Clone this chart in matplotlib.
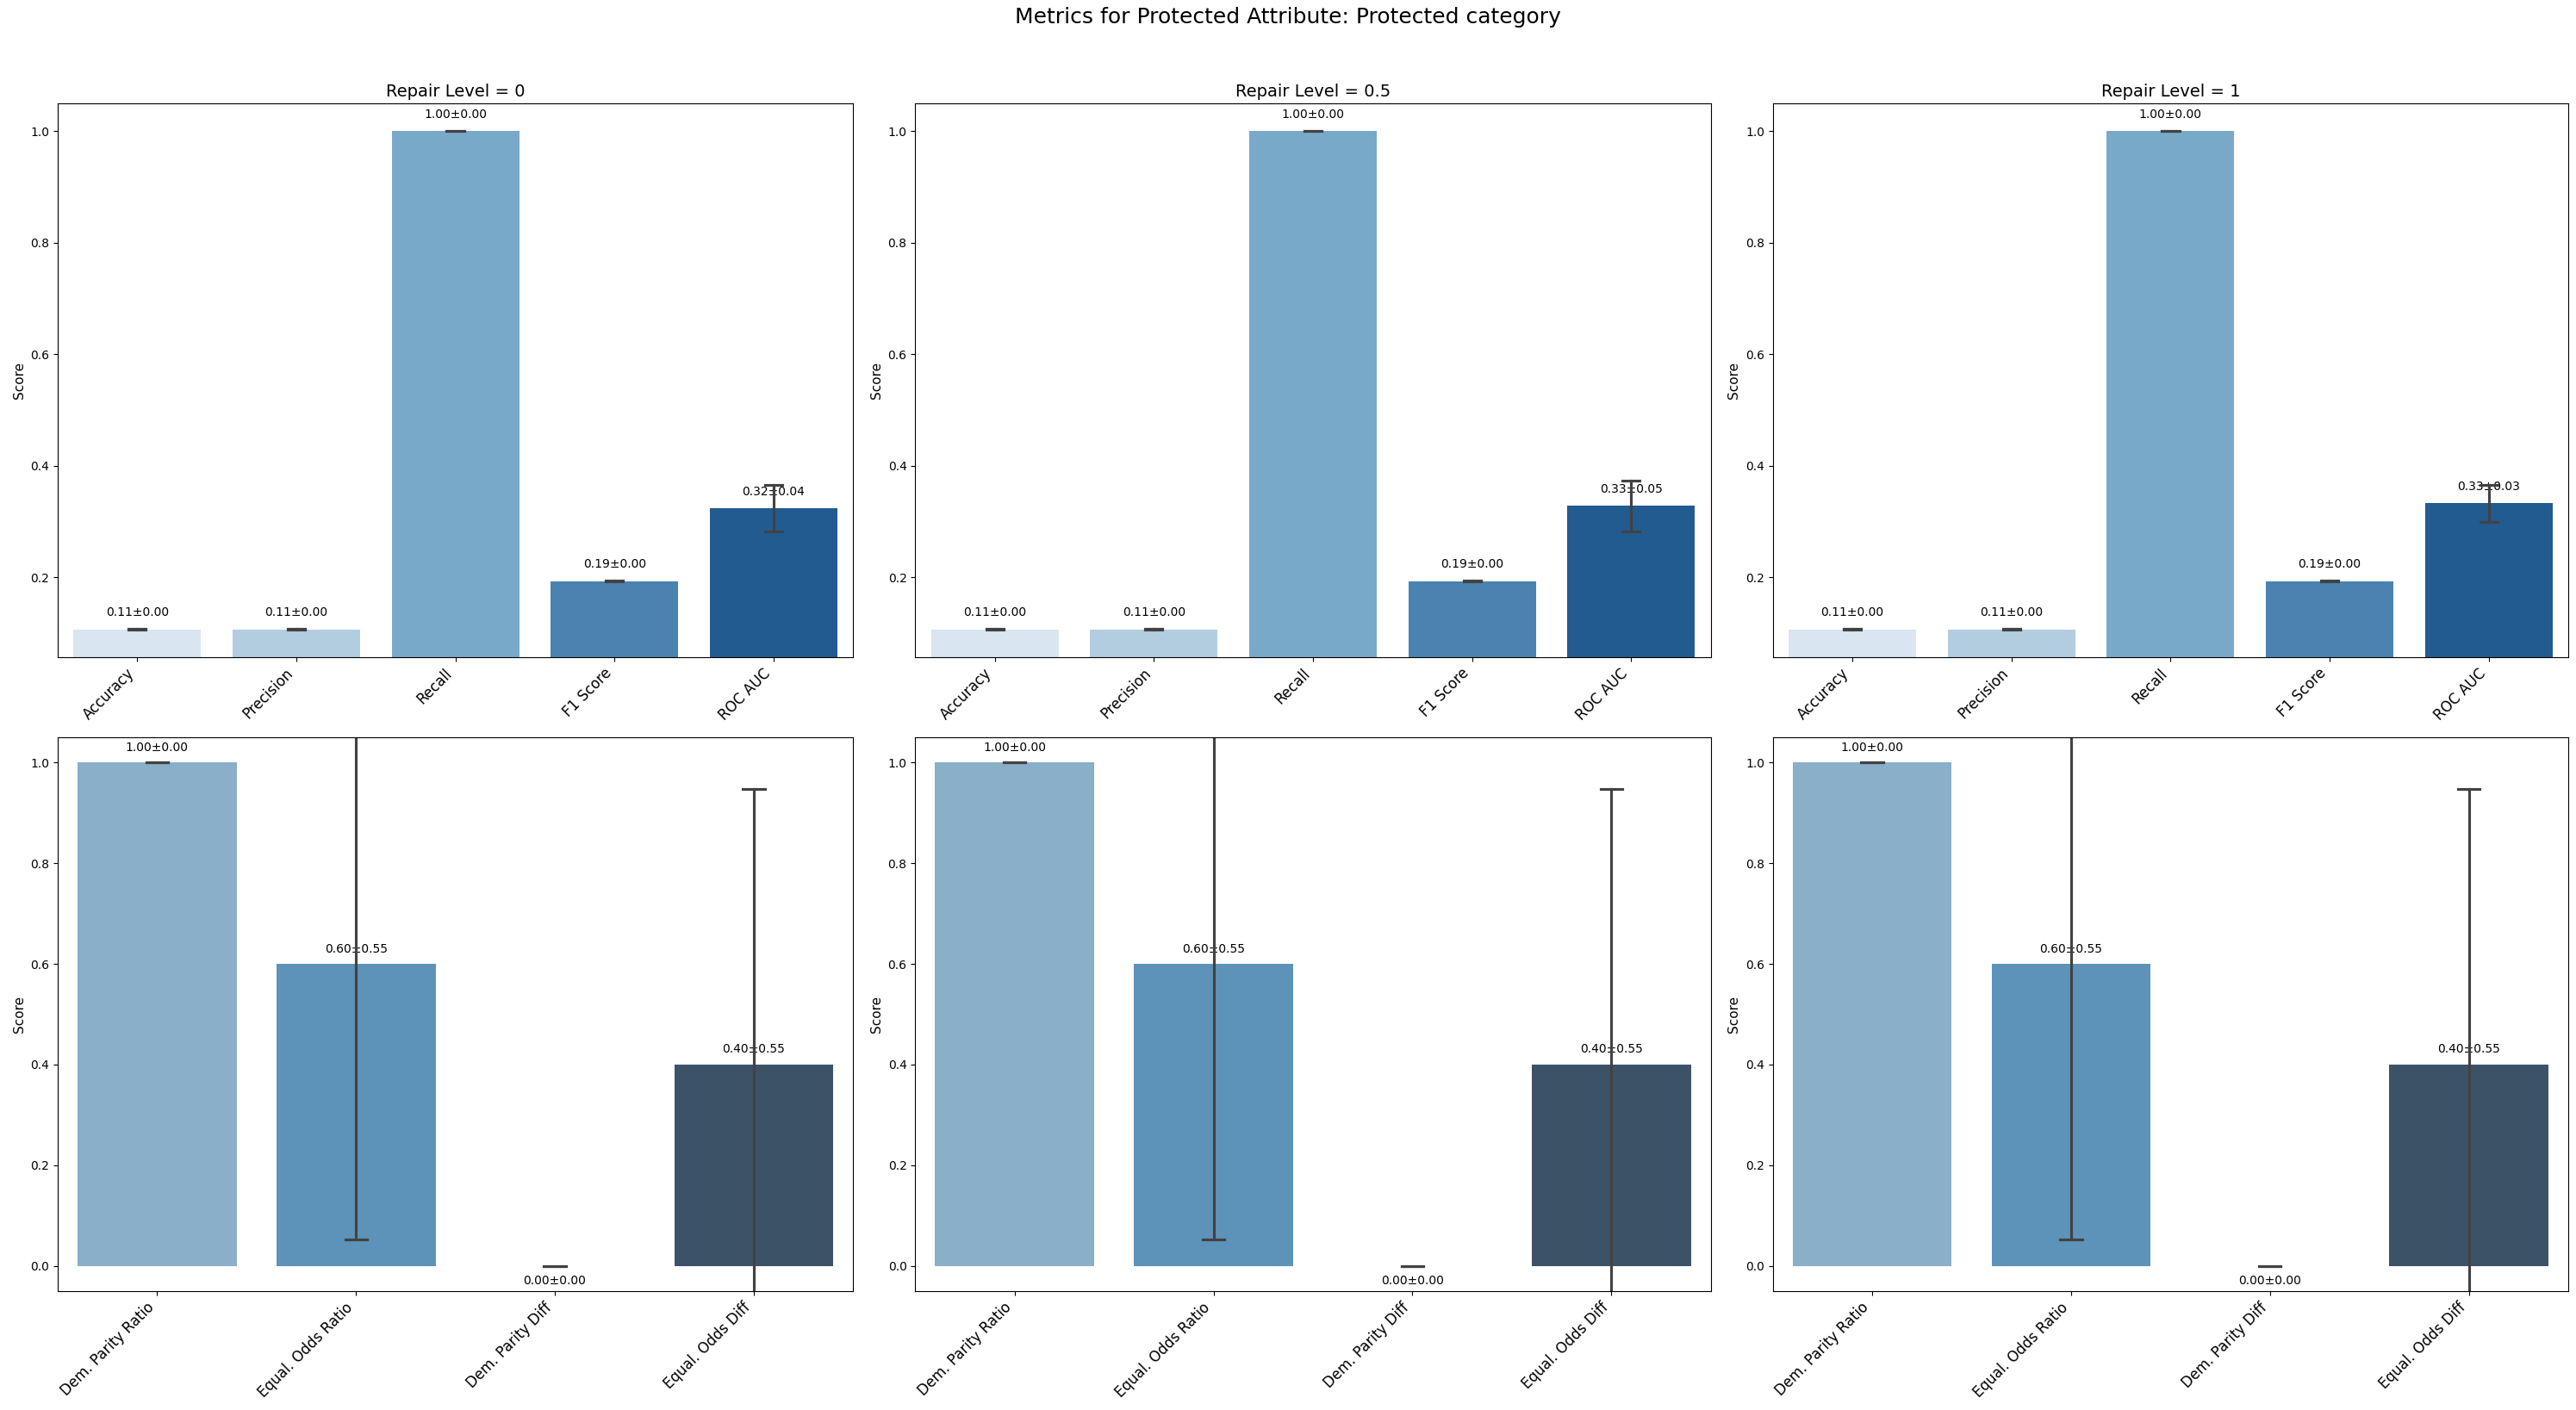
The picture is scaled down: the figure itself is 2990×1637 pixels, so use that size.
import matplotlib
matplotlib.use("Agg")
import matplotlib.pyplot as plt
import numpy as np

# data
repair_levels = ["0", "0.5", "1"]

perf_metrics = ["Accuracy", "Precision", "Recall", "F1 Score", "ROC AUC"]
perf_means = [
    [0.107, 0.107, 1.000, 0.193, 0.324],
    [0.107, 0.107, 1.000, 0.193, 0.328],
    [0.107, 0.107, 1.000, 0.193, 0.333],
]
perf_stds = [
    [0.001, 0.001, 0.000, 0.001, 0.041],
    [0.001, 0.001, 0.000, 0.001, 0.046],
    [0.001, 0.001, 0.000, 0.001, 0.033],
]

fair_metrics = ["Dem. Parity Ratio", "Equal. Odds Ratio", "Dem. Parity Diff", "Equal. Odds Diff"]
fair_means = [
    [1.0, 0.6, 0.0, 0.4],
    [1.0, 0.6, 0.0, 0.4],
    [1.0, 0.6, 0.0, 0.4],
]
fair_stds = [
    [0.0, 0.5477, 0.0, 0.5477],
    [0.0, 0.5477, 0.0, 0.5477],
    [0.0, 0.5477, 0.0, 0.5477],
]

perf_colors = ["#d9e6f1", "#b3cde0", "#79a9c8", "#4a83b0", "#225b90"]
fair_colors = ["#89afc9", "#5d93b8", "#4a7294", "#3c5267"]
err_color = "#424242"


def draw_panel(ax, names, means, stds, colors):
    x = np.arange(len(names))
    ax.bar(x, means, width=0.8, color=colors, zorder=1)
    cap = 0.055
    for i in range(len(names)):
        lo = means[i] - stds[i]
        hi = means[i] + stds[i]
        ax.plot([x[i], x[i]], [lo, hi], color=err_color, lw=2.25, zorder=2)
        ax.plot([x[i] - cap, x[i] + cap], [lo, lo], color=err_color, lw=2.25, zorder=2)
        ax.plot([x[i] - cap, x[i] + cap], [hi, hi], color=err_color, lw=2.25, zorder=2)
        off = 0.03 if means[i] > 0 else -0.03
        ax.text(x[i], means[i] + off, f"{means[i]:.2f}\u00b1{stds[i]:.2f}",
                ha="center", va="center", fontsize=10, zorder=1.5)
    ax.set_xlim(-0.5, len(names) - 0.5)
    ax.set_ylim(min(means) - 0.05, max(means) + 0.05)
    ax.set_xticks(x)
    ax.set_xticklabels(names, rotation=45, ha="right", fontsize=12)
    ax.set_ylabel("Score", fontsize=11)
    ax.tick_params(axis="y", labelsize=10)


fig, axes = plt.subplots(2, 3, figsize=(29.9, 16.37), dpi=100)
fig.subplots_adjust(left=0.0224, right=0.997, top=0.9267, bottom=0.0843,
                    wspace=0.078, hspace=0.145)

for j in range(3):
    draw_panel(axes[0, j], perf_metrics, perf_means[j], perf_stds[j], perf_colors)
    axes[0, j].set_title(f"Repair Level = {repair_levels[j]}", fontsize=14)
    draw_panel(axes[1, j], fair_metrics, fair_means[j], fair_stds[j], fair_colors)

fig.suptitle("Metrics for Protected Attribute: Protected category", fontsize=18, y=0.995)

fig.savefig("out.png", dpi=100)
